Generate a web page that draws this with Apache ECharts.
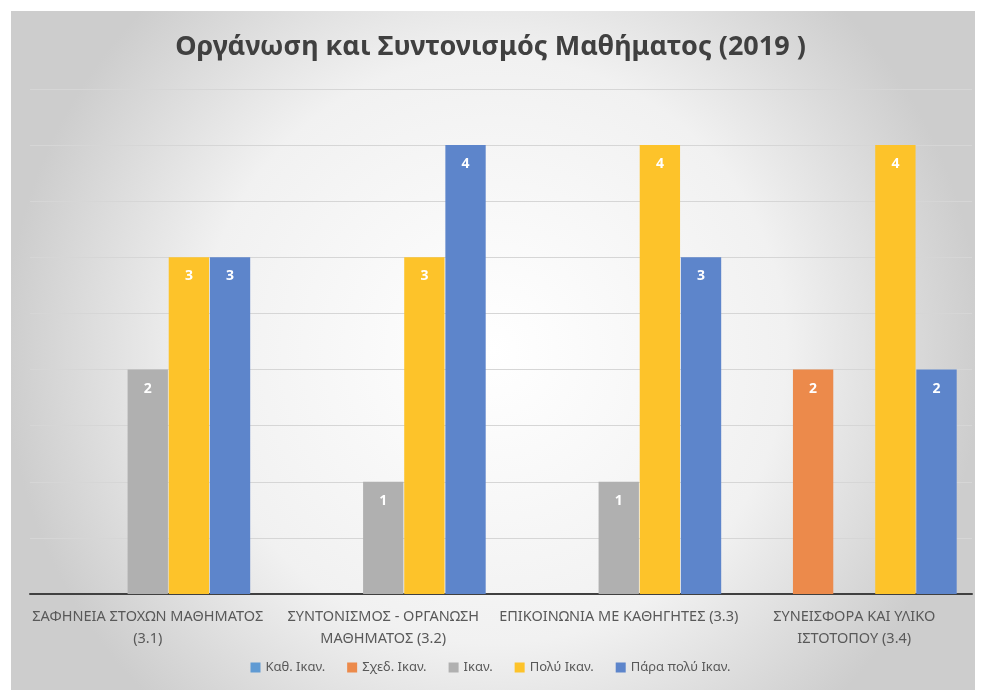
<!DOCTYPE html>
<html>
<head>
<meta charset="utf-8">
<script src="https://cdn.jsdelivr.net/npm/echarts@6/dist/echarts.min.js"></script>
<style>
	html, body { margin: 0; padding: 0; background: #fff; }
	#main { width: 981px; height: 691px; }
</style>
</head>
<body>
<div id="main"></div>
<script>
	// κατηγορίες (με αλλαγή γραμμής όπως στο πρωτότυπο)
	const categories = [
		'ΣΑΦΗΝΕΙΑ ΣΤΟΧΩΝ ΜΑΘΗΜΑΤΟΣ\n(3.1)',
		'ΣΥΝΤΟΝΙΣΜΟΣ - ΟΡΓΑΝΩΣΗ\nΜΑΘΗΜΑΤΟΣ (3.2)',
		'ΕΠΙΚΟΙΝΩΝΙΑ ΜΕ ΚΑΘΗΓΗΤΕΣ (3.3)',
		'ΣΥΝΕΙΣΦΟΡΑ ΚΑΙ ΥΛΙΚΟ\nΙΣΤΟΤΟΠΟΥ (3.4)'
	];
	const seriesNames = ['Καθ. Ικαν.', 'Σχεδ. Ικαν.', 'Ικαν.', 'Πολύ Ικαν.', 'Πάρα πολύ Ικαν.'];
	const kathIkan = [0, 0, 0, 0];
	const sxedIkan = [0, 0, 0, 2];
	const ikan = [2, 1, 1, 0];
	const polyIkan = [3, 3, 4, 4];
	const paraPolyIkan = [3, 4, 3, 2];
	const colors = ['#5f9ad3', '#ec8a4b', '#b0b0b0', '#fdc32a', '#5d85cb'];

	const allData = [kathIkan, sxedIkan, ikan, polyIkan, paraPolyIkan];

	let chart = echarts.init(document.getElementById('main'));
	const option = {
		backgroundColor: '#fff',
		color: colors,
		graphic: [{
			type: 'rect',
			z: -10,
			silent: true,
			shape: {x: 11, y: 11, width: 964, height: 679},
			style: {
				fill: {
					type: 'radial', x: 0.5, y: 0.5, r: 0.72,
					colorStops: [
						{offset: 0, color: '#ffffff'},
						{offset: 0.6, color: '#f1f1f1'},
						{offset: 1, color: '#cdcdcd'}
					]
				}
			}
		}],
		title: {
			text: 'Οργάνωση και Συντονισμός Μαθήματος (2019 )',
			left: 'center',
			top: 29,
			textStyle: {
				fontFamily: 'Noto Sans',
				fontSize: 27,
				fontWeight: 'bold',
				color: '#404040'
			}
		},
		legend: {
			bottom: 12,
			left: 'center',
			itemWidth: 10,
			itemHeight: 10,
			itemGap: 22,
			icon: 'rect',
			textStyle: {fontFamily: 'Noto Sans', fontSize: 13, color: '#595959'},
			data: seriesNames
		},
		grid: {
			left: 30,
			right: 9,
			top: 89,
			bottom: 97,
			containLabel: false
		},
		xAxis: {
			type: 'category',
			data: categories,
			axisTick: {show: false},
			axisLine: {lineStyle: {color: '#404040', width: 2}},
			axisLabel: {
				fontFamily: 'Noto Sans',
				fontSize: 14.5,
				color: '#595959',
				lineHeight: 22,
				margin: 12,
				interval: 0
			}
		},
		yAxis: {
			type: 'value',
			min: 0,
			max: 4.5,
			interval: 0.5,
			axisLabel: {show: false},
			axisLine: {show: false},
			axisTick: {show: false},
			splitLine: {lineStyle: {color: '#d6d6d6', width: 1}}
		},
		series: seriesNames.map((name, i) => ({
			name: name,
			type: 'bar',
			data: allData[i],
			barGap: '2%',
			barCategoryGap: '13%',
			itemStyle: {color: colors[i]},
			label: {
				show: true,
				position: 'insideTop',
				distance: 12,
				color: '#fff',
				fontFamily: 'Noto Sans',
				fontWeight: 'bold',
				fontSize: 14,
				formatter: p => p.value ? p.value : ''
			}
		}))
	};
	chart.setOption(option);
	window.addEventListener('resize', () => {
		chart.resize();
	});
</script>
</body>
</html>
